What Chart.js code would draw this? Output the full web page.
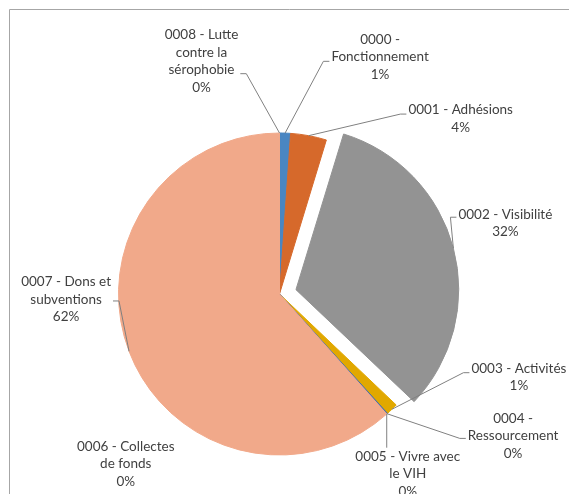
<!DOCTYPE html>
<html>
<head>
<meta charset="utf-8">
<script src="https://cdn.jsdelivr.net/npm/chart.js@4.4.1/dist/chart.umd.min.js"></script>
<style>
  html, body { margin: 0; padding: 0; background: #fff; }
  canvas { display: block; }
</style>
</head>
<body>
<canvas id="pie" width="569" height="494"></canvas>
<script>
// categories, wrapped the way the labels are shown
var categories = [
    ['0000 -', 'Fonctionnement'],
    ['0001 - Adhésions'],
    ['0002 - Visibilité'],
    ['0003 - Activités'],
    ['0004 -', 'Ressourcement'],
    ['0005 - Vivre avec', 'le VIH'],
    ['0006 - Collectes', 'de fonds'],
    ['0007 - Dons et', 'subventions'],
    ['0008 - Lutte', 'contre la', 'sérophobie']
];
// share of the budget, in %
var values = [1.1, 3.6, 32.4, 1.2, 0.1, 0, 0, 61.6, 0];

var colors = ['#4A86C2', '#D6692B', '#939393', '#E1A800', '#3F6CB4',
              '#6B9E45', '#2B5C8E', '#F1A98A', '#B5B5B5'];
var explode = [0, 0, 68, 0, 0, 0, 0, 0, 0];

// where each label sits, relative to the edge of its slice
// dx/dy = label centre, at = where the leader joins (0 top .. 1 bottom), side = l/r/t
var labelLayout = [
    { dx: 95,   dy: -76, at: 0.58, side: 'l' },
    { dx: 152,  dy: -17, at: 0.37, side: 'l' },
    { dx: 52,   dy: -25, at: 0.33, side: 'l' },
    { dx: 127,  dy: -32, at: 0.37, side: 'l' },
    { dx: 126,  dy: 22,  at: 0.55, side: 'l' },
    { dx: 21,   dy: 60,  at: 0,    side: 't' },
    { dx: -261, dy: 50,  at: 0,    side: null },
    { dx: -63,  dy: -52, at: 0.53, side: 'r' },
    { dx: -78,  dy: -72, at: 0.68, side: 'r' }
];

var pieLabels = {
    id: 'pieLabels',
    beforeDraw: function(chart) {
        var ctx = chart.ctx;
        ctx.save();
        ctx.strokeStyle = '#A6A6A6';
        ctx.lineWidth = 1;
        ctx.beginPath();
        ctx.moveTo(9.5, 600);
        ctx.lineTo(9.5, 9.5);
        ctx.lineTo(700, 9.5);
        ctx.stroke();
        ctx.restore();
    },
    afterDatasetsDraw: function(chart) {
        var ctx = chart.ctx;
        var arcs = chart.getDatasetMeta(0).data;
        var total = values.reduce(function(a, b) { return a + b; }, 0);
        var lh = 17.6;
        ctx.save();
        ctx.font = '13.5px Lato';
        ctx.textAlign = 'center';
        ctx.textBaseline = 'middle';
        arcs.forEach(function(arc, i) {
            var p = arc.getProps(['x', 'y', 'startAngle', 'endAngle', 'outerRadius'], true);
            var mid = (p.startAngle + p.endAngle) / 2;
            var off = (arc.options.offset || 0) / 4;
            var fix = 1 - Math.sin(Math.min(Math.PI, p.endAngle - p.startAngle));
            var r = p.outerRadius + off + off * fix;
            var ax = p.x + Math.cos(mid) * r;
            var ay = p.y + Math.sin(mid) * r;

            var lines = categories[i].concat([Math.round(values[i] / total * 100) + '%']);
            var L = labelLayout[i];
            var cx = ax + L.dx, cy = ay + L.dy;
            var top = cy - lines.length * lh / 2;
            var w = 0;
            lines.forEach(function(t) { w = Math.max(w, ctx.measureText(t).width); });

            if (L.side) {
                ctx.strokeStyle = '#808080';
                ctx.lineWidth = 1;
                ctx.beginPath();
                if (L.side == 't') {
                    ctx.moveTo(ax, ay);
                    ctx.lineTo(ax, top);
                } else {
                    var yA = top + L.at * lines.length * lh;
                    var x1 = L.side == 'l' ? cx - w / 2 - 2 : cx + w / 2 + 2;
                    var x2 = L.side == 'l' ? x1 - 6 : x1 + 6;
                    ctx.moveTo(x1, yA);
                    ctx.lineTo(x2, yA);
                    ctx.lineTo(ax, ay);
                }
                ctx.stroke();
            }

            ctx.fillStyle = '#404040';
            lines.forEach(function(t, k) {
                ctx.fillText(t, cx, top + lh * (k + 0.5));
            });
        });
        ctx.restore();
    }
};

var ctx = document.getElementById('pie').getContext('2d');
var pieChart = new Chart(ctx, {
    type: 'pie',
    data: {
        labels: categories,
        datasets: [{
            data: values,
            backgroundColor: colors,
            borderColor: colors,
            borderWidth: 1,
            offset: explode,
            radius: 161
        }]
    },
    options: {
        responsive: false,
        animation: false,
        layout: { padding: { left: 0, right: 10, top: 94, bottom: 0 } },
        plugins: {
            legend: { display: false },
            tooltip: { enabled: false }
        }
    },
    plugins: [pieLabels]
});
</script>
</body>
</html>
